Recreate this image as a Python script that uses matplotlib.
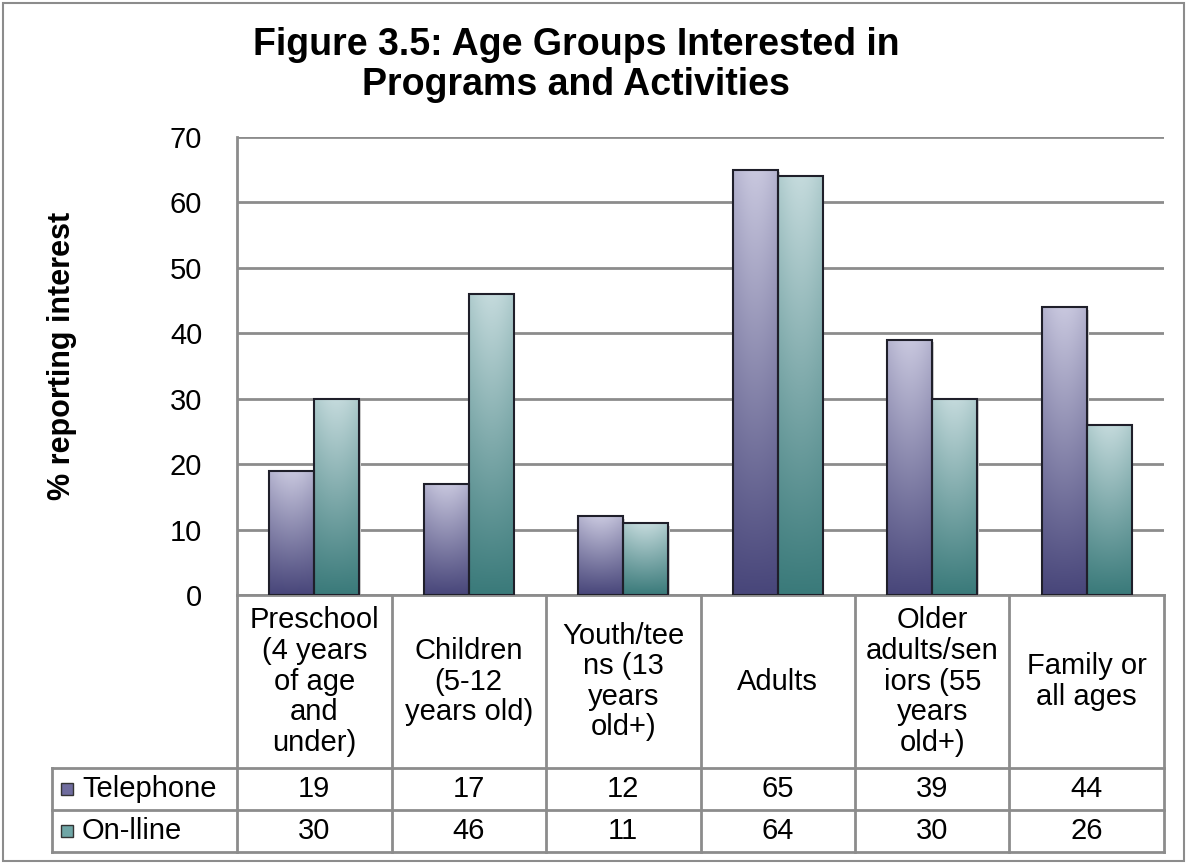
import matplotlib.pyplot as plt
import numpy as np
from matplotlib.patches import Rectangle
from matplotlib.lines import Line2D

plt.rcParams['font.family'] = ['Liberation Sans', 'DejaVu Sans']

categories = ['Preschool\n(4 years\nof age\nand\nunder)', 'Children\n(5-12\nyears old)',
              'Youth/tee\nns (13\nyears\nold+)', 'Adults',
              'Older\nadults/sen\niors (55\nyears\nold+)', 'Family or\nall ages']
series_names = ['Telephone', 'On-lline']
telephone = [19, 17, 12, 65, 39, 44]
online = [30, 46, 11, 64, 30, 26]
yticks = [0, 10, 20, 30, 40, 50, 60, 70]

W, H = 1188, 866
fig = plt.figure(figsize=(W / 100, H / 100), dpi=100)

def fx(px):
    return px / W

def fy(py):
    return 1 - py / H

# plot area in pixel coords
L, R, T, B = 237, 1164, 137, 595
ax = fig.add_axes([fx(L), fy(B), fx(R) - fx(L), fy(T) - fy(B)])

# outer border
fig.add_artist(Rectangle((fx(3), fy(861)), fx(1181), fy(3) - fy(861), transform=fig.transFigure,
                         fill=False, edgecolor='#8c8c8c', lw=1.5))

# ======= gradient bars ======= #
grads = [((72, 70, 122), (200, 199, 222)), ((58, 122, 122), (196, 218, 220))]
x = np.arange(len(categories)) + 0.5
w = 0.29
for k, vals in enumerate([telephone, online]):
    off = -w / 2 if k == 0 else w / 2
    bot, top = np.array(grads[k][0]) / 255, np.array(grads[k][1]) / 255
    bars = ax.bar(x + off, vals, width=w, facecolor='none', edgecolor='#1f1f2a', lw=1.5, zorder=4)
    for b in bars:
        bx, by = b.get_x(), b.get_y()
        bw, bh = b.get_width(), b.get_height()
        # soft shadow on right
        ax.add_patch(Rectangle((bx + 0.012, by), bw, bh - 0.4, facecolor='#cfcfcf',
                               edgecolor='none', zorder=2))
        ny, nx = 100, 20
        ty = np.linspace(1, 0, ny)[:, None]
        tx = np.linspace(0, 1, nx)[None, :]
        t = np.clip(ty * 0.85 + 0.15 * np.sin(np.pi * tx) * ty, 0, 1)
        img = bot[None, None, :] + (top - bot)[None, None, :] * t[:, :, None]
        clip = Rectangle((bx, by), bw, bh, transform=ax.transData)
        im = ax.imshow(img, extent=(bx, bx + bw, by, by + bh), aspect='auto', zorder=3,
                       interpolation='bilinear')
        im.set_clip_path(clip)

ax.set_xlim(0, len(categories))
ax.set_ylim(0, 70)
ax.set_yticks(yticks)
ax.set_xticks([])
ax.tick_params(axis='y', length=0, labelsize=21, pad=25)
ax.grid(axis='y', color='#8c8c8c', lw=2, zorder=0)
ax.set_axisbelow(True)
for s in ['top', 'right']:
    ax.spines[s].set_visible(False)
ax.spines['left'].set_color('#8c8c8c')
ax.spines['left'].set_linewidth(2)
ax.spines['bottom'].set_color('#8c8c8c')
ax.spines['bottom'].set_linewidth(2)

fig.text(fx(62), fy(356), '% reporting interest', rotation=90, ha='center', va='center',
         fontsize=22, fontweight='bold')
fig.text(fx(576), fy(65), 'Figure 3.5: Age Groups Interested in\nPrograms and Activities',
         ha='center', va='center', fontsize=27, fontweight='bold', linespacing=1.15)

# ======= data table ======= #
gc = '#8c8c8c'
row1, row2, row3 = 768, 810, 852
colw = (R - L) / len(categories)

def hline(y, x0, x1):
    fig.add_artist(Line2D([fx(x0), fx(x1)], [fy(y), fy(y)], transform=fig.transFigure, color=gc, lw=2))

def vline(xp, y0, y1):
    fig.add_artist(Line2D([fx(xp), fx(xp)], [fy(y0), fy(y1)], transform=fig.transFigure, color=gc, lw=2))

hline(row1, 52, R)
hline(row2, 52, R)
hline(row3, 52, R)
vline(52, row1, row3)
for i in range(len(categories) + 1):
    vline(L + i * colw, B, row3)

for i, c in enumerate(categories):
    cx = L + (i + 0.5) * colw
    fig.text(fx(cx), fy((B + row1) / 2), c, ha='center', va='center', fontsize=21, linespacing=1.12)
    fig.text(fx(cx), fy((row1 + row2) / 2), str(telephone[i]), ha='center', va='center', fontsize=21)
    fig.text(fx(cx), fy((row2 + row3) / 2), str(online[i]), ha='center', va='center', fontsize=21)

keycols = ['#6f6c9e', '#6fa6a6']
for j, name in enumerate(series_names):
    yc = (row1 + row2) / 2 if j == 0 else (row2 + row3) / 2
    fig.add_artist(Rectangle((fx(61), fy(yc + 6)), fx(12), fy(yc - 6) - fy(yc + 6), transform=fig.transFigure,
                             facecolor=keycols[j], edgecolor='#333333', lw=1))
    fig.text(fx(82), fy(yc), name, ha='left', va='center', fontsize=21)

fig.savefig('out.png', dpi=100)
